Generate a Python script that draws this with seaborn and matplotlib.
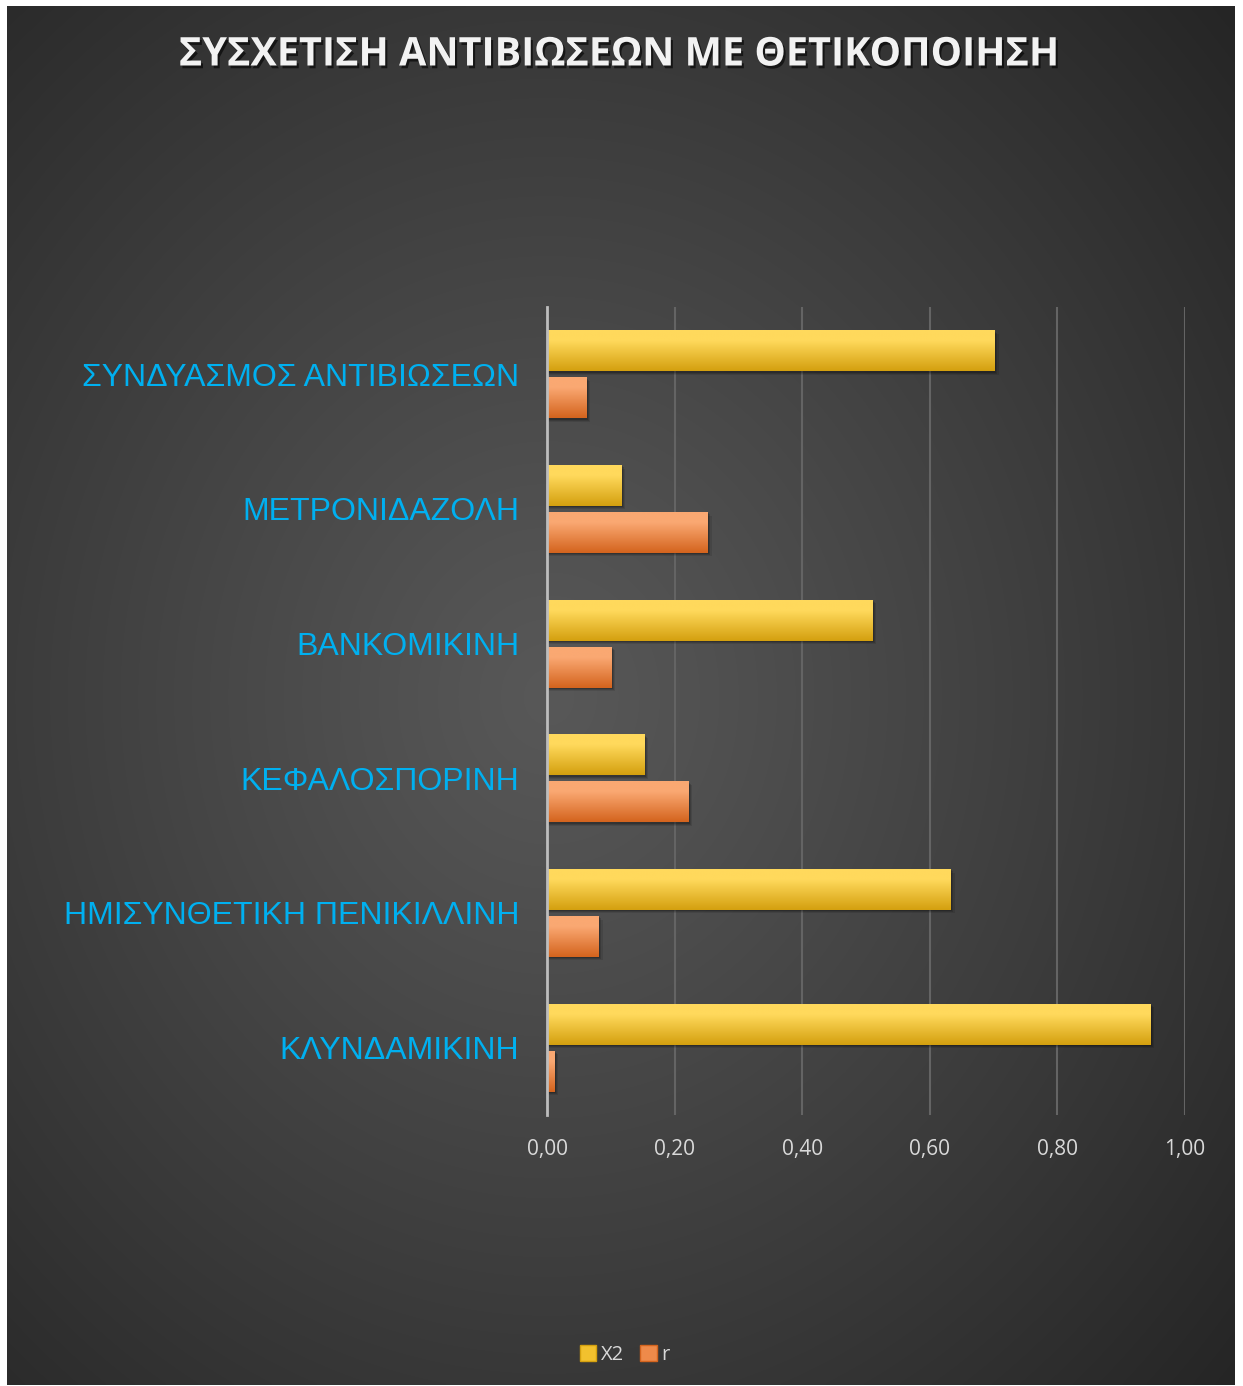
import numpy as np
import pandas as pd
import matplotlib
matplotlib.use("Agg")
import matplotlib.pyplot as plt
import matplotlib.patheffects as pe
from matplotlib.patches import Patch
from matplotlib.colors import to_rgb
import seaborn as sns

# ---- data ----
categories = ["ΣΥΝΔΥΑΣΜΟΣ ΑΝΤΙΒΙΩΣΕΩΝ", "ΜΕΤΡΟΝΙΔΑΖΟΛΗ", "ΒΑΝΚΟΜΙΚΙΝΗ",
              "ΚΕΦΑΛΟΣΠΟΡΙΝΗ", "ΗΜΙΣΥΝΘΕΤΙΚΗ ΠΕΝΙΚΙΛΛΙΝΗ", "ΚΛΥΝΔΑΜΙΚΙΝΗ"]
x2_values = [0.702, 0.117, 0.510, 0.153, 0.633, 0.946]
r_values = [0.062, 0.252, 0.101, 0.222, 0.081, 0.012]
series_names = ["X2", "r"]
x_ticks = [0.0, 0.2, 0.4, 0.6, 0.8, 1.0]
x_tick_labels = ["0,00", "0,20", "0,40", "0,60", "0,80", "1,00"]
title = "ΣΥΣΧΕΤΙΣΗ ΑΝΤΙΒΙΩΣΕΩΝ ΜΕ ΘΕΤΙΚΟΠΟΙΗΣΗ"

df = pd.DataFrame({
    "cat": categories * 2,
    "value": x2_values + r_values,
    "series": [series_names[0]] * len(categories) + [series_names[1]] * len(categories),
})

W, H = 1243, 1386
fig = plt.figure(figsize=(W / 100, H / 100), dpi=100, facecolor="white")

# background panel with radial gradient
bg = fig.add_axes([7 / W, 1 / H, (1235 - 7) / W, (1385 - 6) / H])
bg.set_axis_off()
ny, nx = 400, 360
yy, xx = np.mgrid[0:ny, 0:nx]
cx, cy = 0.44 * nx, 0.50 * ny
d = np.sqrt(((xx - cx) / (0.75 * nx)) ** 2 + ((yy - cy) / (0.75 * ny)) ** 2)
v = 0.345 - 0.20 * np.clip(d, 0, 1) ** 1.1
img = np.dstack([v, v, v])
bg.imshow(img, aspect="auto", interpolation="bilinear", extent=[0, 1, 0, 1])
bg.set_xlim(0, 1)
bg.set_ylim(0, 1)

# main plot
left, right = 547 / W, 1185 / W
top, bottom = 1 - 307 / H, 1 - 1115 / H
ax = fig.add_axes([left, bottom, right - left, top - bottom])
ax.patch.set_alpha(0)

x2_col = "#F2C12E"
r_col = "#EE8A4A"
sns.barplot(data=df, y="cat", x="value", hue="series", order=categories,
            hue_order=series_names, palette=[x2_col, r_col], orient="h",
            width=0.698, gap=0.128, ax=ax, legend=False, zorder=3,
            saturation=1, edgecolor="none", linewidth=0)

grads = {
    "X2": ("#FFD95C", "#D4A00F"),
    "r": ("#FAA872", "#D4641E"),
}

def hex2rgb(h):
    return np.array(to_rgb(h))

ref = {"X2": hex2rgb(x2_col), "r": hex2rgb(r_col)}
for p in list(ax.patches):
    fc = np.array(p.get_facecolor()[:3])
    key = min(ref, key=lambda k: np.sum((ref[k] - fc) ** 2))
    c_top, c_bot = grads[key]
    x0, y0 = p.get_x(), p.get_y()
    w, h = p.get_width(), p.get_height()
    # soft shadow
    for k, a in enumerate([0.18, 0.14, 0.10]):
        sh = plt.Rectangle((x0, y0 + 0.01 + 0.008 * k), w + 0.002 + 0.002 * k, h,
                           facecolor="black", alpha=a, zorder=2, linewidth=0)
        ax.add_patch(sh)
    t = np.linspace(0, 1, 64)[:, None]
    ct, cb = hex2rgb(c_top), hex2rgb(c_bot)
    tt = np.clip((t - 0.25) / 0.75, 0, 1)
    grad = ct[None, None, :] * (1 - tt[..., None]) + cb[None, None, :] * tt[..., None]
    grad = np.repeat(grad, 2, axis=1)
    im = ax.imshow(grad, extent=[x0, x0 + w, y0 + h, y0], aspect="auto",
                   zorder=4, interpolation="bilinear")
    im.set_clip_path(p)

ax.set_xlim(0, 1.0)
ax.set_ylim(5.5, -0.5)
ax.set_aspect("auto")
ax.set_xticks(x_ticks)
ax.set_xticklabels(x_tick_labels)
ax.set_xlabel("")
ax.set_ylabel("")
ax.grid(axis="x", color="#646464", linewidth=1.5, zorder=0)
ax.grid(axis="y", visible=False)
ax.set_axisbelow(True)
for s in ["top", "right", "bottom"]:
    ax.spines[s].set_visible(False)
ax.spines["left"].set_color("#bdbdbd")
ax.spines["left"].set_linewidth(2)
ax.spines["left"].set_zorder(6)
ax.tick_params(axis="both", length=0)
ax.tick_params(axis="y", pad=20, labelcolor="#00B0F0")
ax.tick_params(axis="x", pad=17, labelcolor="#D9D9D9")
for lab in ax.get_yticklabels():
    lab.set_fontfamily(["Liberation Sans", "DejaVu Sans"])
    lab.set_fontsize(23)
for lab in ax.get_xticklabels():
    lab.set_fontfamily(["Open Sans", "DejaVu Sans"])
    lab.set_fontsize(15)

# title
fig.text(619 / W, 1 - 55 / H, title, ha="center", va="center",
         fontsize=28.5, fontweight="bold", color="#F2F2F2",
         family=["Open Sans", "DejaVu Sans"],
         path_effects=[pe.withSimplePatchShadow(offset=(1.5, -2), shadow_rgbFace="black", alpha=0.6)])

# legend
handles = [Patch(facecolor="#F2C12E", edgecolor="#D4A00F"),
           Patch(facecolor="#EE8A4A", edgecolor="#D4641E")]
leg = fig.legend(handles, series_names, loc="center", ncol=2,
                 bbox_to_anchor=(625 / W, 1 - 1355 / H), frameon=False,
                 handlelength=0.8, handleheight=0.8, handletextpad=0.25,
                 columnspacing=0.8,
                 prop={"family": ["Open Sans", "DejaVu Sans"], "size": 14.5})
for t in leg.get_texts():
    t.set_color("#D9D9D9")

fig.savefig("out.png", dpi=100, facecolor="white")
